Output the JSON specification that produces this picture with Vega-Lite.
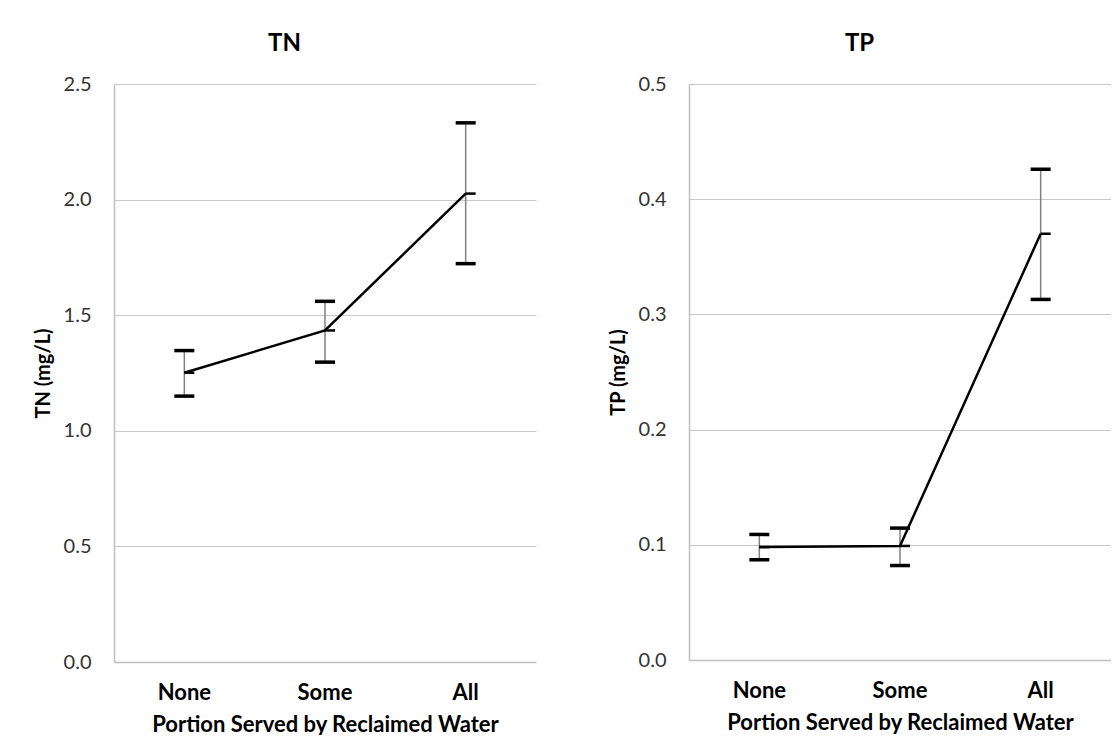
{
  "$schema": "https://vega.github.io/schema/vega-lite/v6.json",
  "padding": {"left": 33, "top": 32, "right": 0, "bottom": 0},
  "datasets": {
    "tn": [
      {"cat": "None", "mean": 1.251, "lo": 1.150, "hi": 1.347},
      {"cat": "Some", "mean": 1.434, "lo": 1.297, "hi": 1.560},
      {"cat": "All", "mean": 2.026, "lo": 1.723, "hi": 2.332}
    ],
    "tp": [
      {"cat": "None", "mean": 0.098, "lo": 0.087, "hi": 0.109},
      {"cat": "Some", "mean": 0.099, "lo": 0.082, "hi": 0.1145},
      {"cat": "All", "mean": 0.370, "lo": 0.313, "hi": 0.426}
    ]
  },
  "spacing": 72,
  "hconcat": [
    {
      "width": 422,
      "height": 578,
      "data": {"name": "tn"},
      "title": {"text": "TN"},
      "encoding": {
        "x": {"field": "cat", "type": "nominal", "sort": ["None", "Some", "All"],
              "scale": {"paddingInner": 0, "paddingOuter": 0},
              "axis": {"title": "Portion Served by Reclaimed Water"}}
      },
      "layer": [
        {"mark": {"type": "rule", "color": "#808080", "strokeWidth": 1.5},
         "encoding": {"y": {"field": "lo", "type": "quantitative", "scale": {"domain": [0, 2.5], "nice": false},
                            "axis": {"title": "TN (mg/L)", "values": [0, 0.5, 1, 1.5, 2, 2.5], "format": ".1f"}},
                      "y2": {"field": "hi"}}},
        {"mark": {"type": "tick", "color": "#000000", "thickness": 3.5, "size": 20, "opacity": 1},
         "encoding": {"y": {"field": "hi", "type": "quantitative"}}},
        {"mark": {"type": "tick", "color": "#000000", "thickness": 3.5, "size": 20, "opacity": 1},
         "encoding": {"y": {"field": "lo", "type": "quantitative"}}},
        {"mark": {"type": "tick", "color": "#000000", "thickness": 2.5, "size": 10, "xOffset": 5, "opacity": 1},
         "encoding": {"y": {"field": "mean", "type": "quantitative"}}},
        {"mark": {"type": "line", "color": "#000000", "strokeWidth": 2.5},
         "encoding": {"y": {"field": "mean", "type": "quantitative"}}}
      ]
    },
    {
      "width": 422,
      "height": 576,
      "data": {"name": "tp"},
      "title": {"text": "TP"},
      "encoding": {
        "x": {"field": "cat", "type": "nominal", "sort": ["None", "Some", "All"],
              "scale": {"paddingInner": 0, "paddingOuter": 0},
              "axis": {"title": "Portion Served by Reclaimed Water"}}
      },
      "layer": [
        {"mark": {"type": "rule", "color": "#808080", "strokeWidth": 1.5},
         "encoding": {"y": {"field": "lo", "type": "quantitative", "scale": {"domain": [0, 0.5], "nice": false},
                            "axis": {"title": "TP (mg/L)", "values": [0, 0.1, 0.2, 0.3, 0.4, 0.5], "format": ".1f"}},
                      "y2": {"field": "hi"}}},
        {"mark": {"type": "tick", "color": "#000000", "thickness": 3.5, "size": 20, "opacity": 1},
         "encoding": {"y": {"field": "hi", "type": "quantitative"}}},
        {"mark": {"type": "tick", "color": "#000000", "thickness": 3.5, "size": 20, "opacity": 1},
         "encoding": {"y": {"field": "lo", "type": "quantitative"}}},
        {"mark": {"type": "tick", "color": "#000000", "thickness": 2.5, "size": 10, "xOffset": 5, "opacity": 1},
         "encoding": {"y": {"field": "mean", "type": "quantitative"}}},
        {"mark": {"type": "line", "color": "#000000", "strokeWidth": 2.5},
         "encoding": {"y": {"field": "mean", "type": "quantitative"}}}
      ]
    }
  ],
  "config": {
    "font": "Lato",
    "view": {"stroke": null},
    "title": {"font": "Lato", "fontSize": 24, "fontWeight": "bold", "color": "#000000", "anchor": "middle", "frame": "bounds", "offset": 18},
    "axis": {"labelFont": "Lato", "titleFont": "Lato", "titleFontWeight": "bold", "titleColor": "#000000",
             "domainColor": "#bfbfbf", "gridColor": "#c8c8c8", "ticks": false},
    "axisX": {"labelAngle": 0, "labelFontSize": 22, "labelFontWeight": "bold", "labelColor": "#000000",
              "labelPadding": 20, "titleFontSize": 22, "titlePadding": 11, "grid": false, "domainWidth": 1.5},
    "axisY": {"labelFontSize": 20, "labelColor": "#333333", "labelPadding": 23, "titleFontSize": 20,
              "titlePadding": 10, "domainWidth": 1.5, "gridWidth": 1}
  }
}
